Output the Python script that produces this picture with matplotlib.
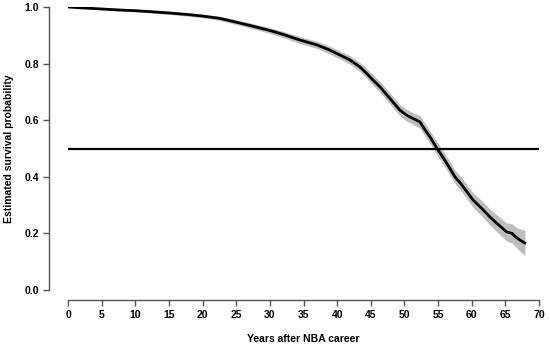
import matplotlib
matplotlib.use("Agg")
import matplotlib.pyplot as plt

plt.rcParams['font.family'] = ['Liberation Sans', 'DejaVu Sans']

years = [0, 2, 5, 8, 10, 12, 15, 18, 20, 22.5, 24, 27, 30, 32, 34.5, 37, 38.9, 41.9,
         43.4, 44.1, 45.2, 46.4, 47.8, 49.3, 50.3, 51.2, 52.3, 53.0, 53.8, 54.8, 55.8,
         56.8, 57.5, 58.3, 59.2, 60.2, 61.5, 62.7, 64.0, 65.2, 66.0, 66.7, 67.2, 67.9]
surv = [1.0, 0.997, 0.993, 0.989, 0.987, 0.984, 0.979, 0.973, 0.968, 0.96, 0.952, 0.935,
        0.917, 0.903, 0.883, 0.866, 0.848, 0.813, 0.788, 0.772, 0.745, 0.717, 0.678,
        0.636, 0.618, 0.607, 0.594, 0.568, 0.541, 0.502, 0.466, 0.428, 0.4, 0.378,
        0.35, 0.318, 0.288, 0.258, 0.23, 0.205, 0.2, 0.184, 0.176, 0.166]
half_width = [0.0, 0.002, 0.003, 0.004, 0.004, 0.005, 0.005, 0.006, 0.006, 0.007, 0.008,
              0.009, 0.01, 0.011, 0.012, 0.013, 0.014, 0.015, 0.016, 0.017, 0.018, 0.019,
              0.02, 0.02, 0.021, 0.021, 0.022, 0.022, 0.022, 0.023, 0.023, 0.024, 0.024,
              0.025, 0.025, 0.026, 0.027, 0.028, 0.03, 0.032, 0.034, 0.036, 0.04, 0.045]
ref_level = 0.5
xticks = list(range(0, 71, 5))
yticks = [0.0, 0.2, 0.4, 0.6, 0.8, 1.0]

fig = plt.figure(figsize=(5.5, 3.5), dpi=100)
W, H = 550, 350
ax = fig.add_axes([68 / W, (H - 290) / H, (539 - 68) / W, (290 - 7) / H])
ax.set_xlim(0, 70)
ax.set_ylim(0, 1)

lo = [s - h for s, h in zip(surv, half_width)]
hi = [s + h for s, h in zip(surv, half_width)]
ax.fill_between(years, lo, hi, color='#bebebe', lw=0)
ax.plot(years, surv, color='black', lw=2.0, solid_joinstyle='round')
ax.plot([0, 70], [ref_level, ref_level], color='black', lw=1.6)

for s in ['top', 'right']:
    ax.spines[s].set_visible(False)
ax.spines['left'].set_position(('outward', 19 * 0.72))
ax.spines['bottom'].set_position(('outward', 10 * 0.72))
ax.spines['left'].set_bounds(0, 1)
ax.spines['bottom'].set_bounds(0, 70)
for s in ['left', 'bottom']:
    ax.spines[s].set_color('#555555')
    ax.spines[s].set_linewidth(1.0)

ax.set_xticks(xticks)
ax.set_xticklabels([str(t) for t in xticks])
ax.set_yticks(yticks)
ax.set_yticklabels([f"{t:.1f}" for t in yticks])
ax.tick_params(axis='both', length=4, width=1.0, color='#555555', labelsize=7.5,
               pad=3)
for lab in ax.get_xticklabels() + ax.get_yticklabels():
    lab.set_fontweight('bold')

ax.set_xlabel('Years after NBA career', fontsize=7.5, fontweight='bold', labelpad=10)
ax.set_ylabel('Estimated survival probability', fontsize=7.5, fontweight='bold', labelpad=8)

fig.savefig('out.png', dpi=100)
